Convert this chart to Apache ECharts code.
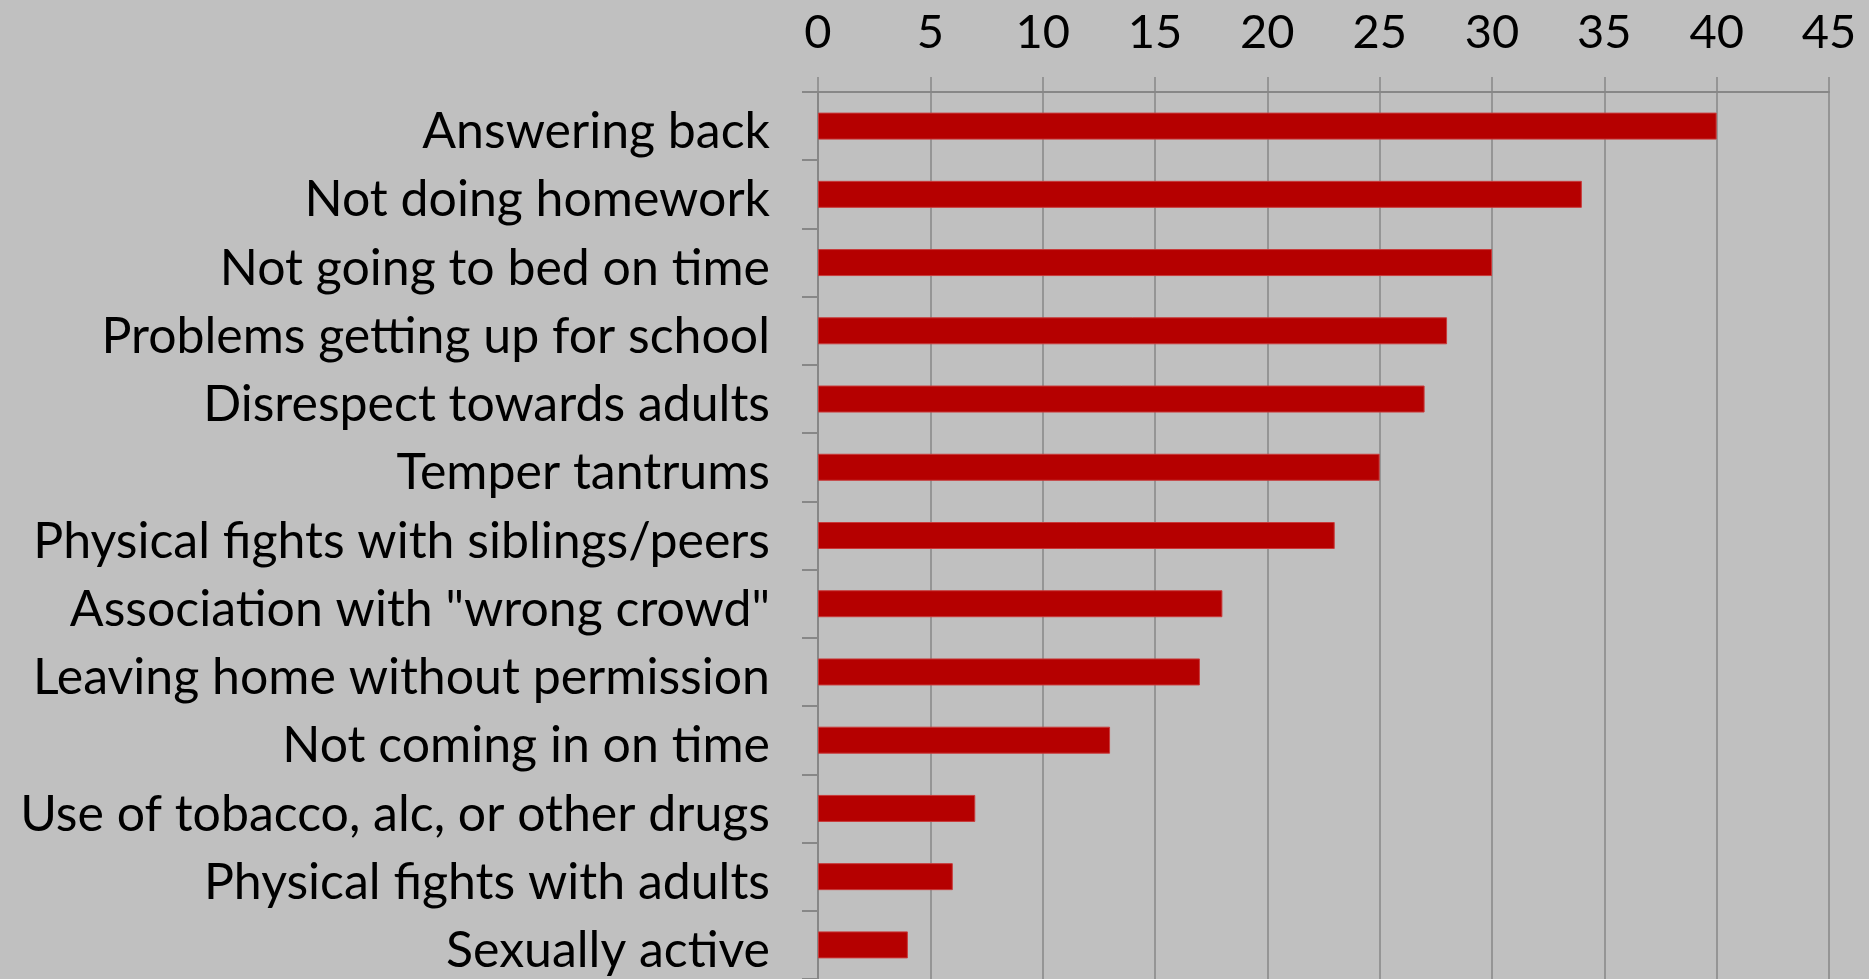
<!DOCTYPE html>
<html>
<head>
<meta charset="utf-8">
<script src="https://cdn.jsdelivr.net/npm/echarts@6/dist/echarts.min.js"></script>
<style>
  html, body { margin: 0; padding: 0; background: #c0c0c0; }
  #chart { width: 1869px; height: 979px; }
</style>
</head>
<body>
<div id="chart"></div>
<script>
// Reported behaviour problems, counts per category
const categories = [
  'Answering back',
  'Not doing homework',
  'Not going to bed on time',
  'Problems getting up for school',
  'Disrespect towards adults',
  'Temper tantrums',
  'Physical fights with siblings/peers',
  'Association with "wrong crowd"',
  'Leaving home without permission',
  'Not coming in on time',
  'Use of tobacco, alc, or other drugs',
  'Physical fights with adults',
  'Sexually active'
];
const counts = [40, 34, 30, 28, 27, 25, 23, 18, 17, 13, 7, 6, 4];
const axisMin = 0;
const axisMax = 45;
const axisStep = 5;

const FONT = 'Lato, "Open Sans", sans-serif';
const chart = echarts.init(document.getElementById('chart'));
chart.setOption({
  backgroundColor: '#c0c0c0',
  animation: false,
  grid: { left: 818, top: 92, width: 1011, height: 891, containLabel: false },
  xAxis: {
    type: 'value',
    position: 'top',
    min: axisMin,
    max: axisMax,
    interval: axisStep,
    axisLine: { show: true, lineStyle: { color: '#878787', width: 2 } },
    axisTick: { show: true, length: 15, lineStyle: { color: '#878787', width: 1.5 } },
    axisLabel: { color: '#000', fontFamily: FONT, fontSize: 47, margin: 36 },
    splitLine: { show: true, lineStyle: { color: '#878787', width: 1.5 } }
  },
  yAxis: {
    type: 'category',
    data: categories,
    inverse: true,
    axisLine: { show: true, lineStyle: { color: '#878787', width: 2 } },
    axisTick: { show: true, length: 16, lineStyle: { color: '#878787', width: 2 } },
    axisLabel: {
      margin: 48,
      formatter: v => '{t|' + v + '}',
      rich: {
        t: { color: '#000', fontFamily: FONT, fontSize: 50, padding: [12, 0, 0, 0] }
      }
    },
    splitLine: { show: false }
  },
  series: [{
    type: 'bar',
    data: counts,
    barWidth: 27,
    itemStyle: { color: '#b50000', borderColor: '#c83a3a', borderWidth: 1 }
  }]
});
</script>
</body>
</html>
